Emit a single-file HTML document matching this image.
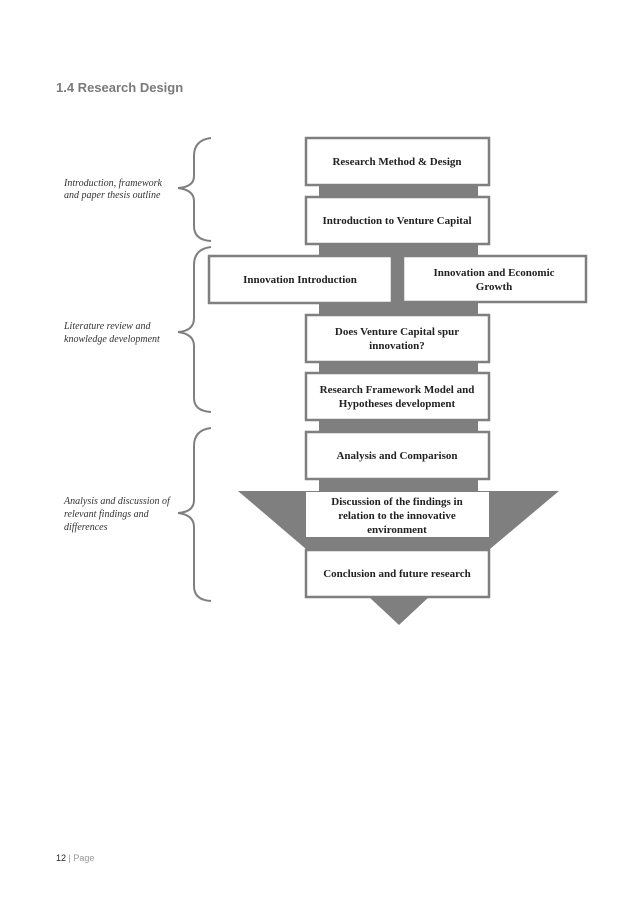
<!DOCTYPE html>
<html><head><meta charset="utf-8"><style>
html,body{margin:0;padding:0;background:#fff;}
svg{display:block;}
.b{fill:#fff;stroke:#7f7f7f;stroke-width:2.5;}
.t{font-family:"Liberation Serif",serif;font-size:11px;font-weight:bold;fill:#222;text-anchor:middle;}
.i{font-family:"Liberation Serif",serif;font-size:10px;font-style:italic;fill:#333;}
.br{fill:none;stroke:#7f7f7f;stroke-width:2;}
</style></head><body>
<svg width="638" height="903" viewBox="0 0 638 903">
<text x="56" y="92" font-family="Liberation Sans, sans-serif" font-size="13" font-weight="bold" fill="#7a7a7a">1.4 Research Design</text>
<rect x="319" y="180" width="159" height="255" fill="#7f7f7f"/>
<rect x="319" y="475" width="159" height="20" fill="#7f7f7f"/>
<polygon points="238,491 559,491 490,549 306,549" fill="#7f7f7f"/>
<polygon points="368,596 430,596 399,625" fill="#7f7f7f"/>
<rect class="b" x="306" y="138" width="183" height="47"/>
<text class="t" x="397" y="165">Research Method &amp; Design</text>
<rect class="b" x="306" y="197" width="183" height="47"/>
<text class="t" x="397" y="224">Introduction to Venture Capital</text>
<rect class="b" x="209" y="256" width="183" height="47"/>
<text class="t" x="300" y="283">Innovation Introduction</text>
<rect class="b" x="403" y="256" width="183" height="46"/>
<text class="t" x="494" y="276">Innovation and Economic</text>
<text class="t" x="494" y="290">Growth</text>
<rect class="b" x="306" y="315" width="183" height="47"/>
<text class="t" x="397" y="335">Does Venture Capital spur</text>
<text class="t" x="397" y="349">innovation?</text>
<rect class="b" x="306" y="373" width="183" height="47"/>
<text class="t" x="397" y="393">Research Framework Model and</text>
<text class="t" x="397" y="407">Hypotheses development</text>
<rect class="b" x="306" y="432" width="183" height="47"/>
<text class="t" x="397" y="459">Analysis and Comparison</text>
<rect x="306" y="492" width="183" height="45" fill="#fff"/>
<text class="t" x="397" y="505">Discussion of the findings in</text>
<text class="t" x="397" y="519">relation to the innovative</text>
<text class="t" x="397" y="533">environment</text>
<rect class="b" x="306" y="550" width="183" height="47"/>
<text class="t" x="397" y="577">Conclusion and future research</text>
<path class="br" d="M211,138 Q194,140 194,156 L194,176 Q194,187 178,188 Q194,190 194,201 L194,226 Q194,240 211,241"/>
<path class="br" d="M211,247 Q194,249 194,265 L194,318 Q194,331 178,332 Q194,334 194,346 L194,398 Q194,411 211,412"/>
<path class="br" d="M211,428 Q194,430 194,446 L194,500 Q194,512 178,513 Q194,515 194,527 L194,586 Q194,600 211,601"/>
<text class="i" x="64" y="186">Introduction, framework</text>
<text class="i" x="64" y="198">and paper thesis outline</text>
<text class="i" x="64" y="329">Literature review and</text>
<text class="i" x="64" y="342">knowledge development</text>
<text class="i" x="64" y="504">Analysis and discussion of</text>
<text class="i" x="64" y="517">relevant findings and</text>
<text class="i" x="64" y="530">differences</text>
<text x="56" y="861" font-family="Liberation Sans, sans-serif" font-size="9" fill="#222">12 <tspan fill="#999">| Page</tspan></text>
</svg>
</body></html>
